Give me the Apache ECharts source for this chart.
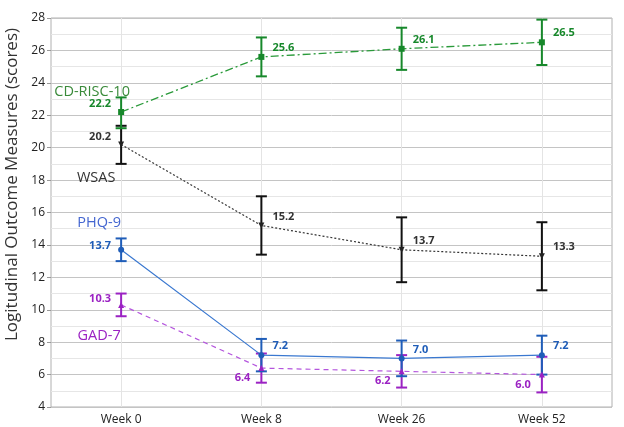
<!DOCTYPE html>
<html><head><meta charset="utf-8">
<script src="https://cdn.jsdelivr.net/npm/echarts@6/dist/echarts.min.js"></script>
<style>html,body{margin:0;padding:0;background:#fff}#c{width:624px;height:427px}</style>
</head><body><div id="c"></div>
<script>
const categories = ['Week 0', 'Week 8', 'Week 26', 'Week 52'];
const cdrisc = [22.2, 25.6, 26.1, 26.5];
const cdriscLow = [21.2, 24.4, 24.8, 25.1];
const cdriscHigh = [23.1, 26.8, 27.4, 27.9];
const wsas = [20.2, 15.2, 13.7, 13.3];
const wsasLow = [19.0, 13.4, 11.7, 11.2];
const wsasHigh = [21.35, 17.0, 15.7, 15.4];
const phq = [13.7, 7.2, 7.0, 7.2];
const phqLow = [13.0, 6.2, 5.9, 6.0];
const phqHigh = [14.4, 8.2, 8.1, 8.4];
const gad = [10.3, 6.4, 6.2, 6.0];
const gadLow = [9.6, 5.5, 5.2, 4.9];
const gadHigh = [11.0, 7.3, 7.2, 7.1];
const yTicks = [4, 6, 8, 10, 12, 14, 16, 18, 20, 22, 24, 26, 28];

const FONT = 'Open Sans';
const chart = echarts.init(document.getElementById('c'), null, {renderer: 'canvas'});

function labeled(vals, color, firstOff, restPos, restOff) {
  return vals.map((v, i) => ({
    value: v,
    label: {
      show: true,
      position: i === 0 ? 'left' : restPos,
      distance: i === 0 ? 7 : 8,
      offset: i === 0 ? firstOff : restOff,
      color: color,
      fontSize: 11,
      fontWeight: 'bold',
      fontFamily: FONT,
      formatter: p => p.value.toFixed(1)
    }
  }));
}

function errSeries(low, high, color, z) {
  return {
    type: 'custom',
    z: z,
    silent: true,
    data: low.map((l, i) => [i, l, high[i]]),
    renderItem: function (params, api) {
      const x = api.value(0);
      const lo = api.coord([x, api.value(1)]);
      const hi = api.coord([x, api.value(2)]);
      const w = 5.5;
      const style = {stroke: color, lineWidth: 2};
      return {
        type: 'group',
        children: [
          {type: 'line', shape: {x1: lo[0], y1: lo[1], x2: hi[0], y2: hi[1]}, style: style},
          {type: 'line', shape: {x1: lo[0] - w, y1: lo[1], x2: lo[0] + w, y2: lo[1]}, style: style},
          {type: 'line', shape: {x1: hi[0] - w, y1: hi[1], x2: hi[0] + w, y2: hi[1]}, style: style}
        ]
      };
    }
  };
}

function tag(name, yv, dx, color) {
  return {
    symbol: 'rect', symbolSize: 1,
    itemStyle: {color: 'rgba(0,0,0,0)'},
    label: {show: true, position: 'inside', offset: [dx, 0], formatter: name,
            color: color, fontSize: 14.5, fontFamily: FONT},
    data: [{coord: [categories[0], yv]}]
  };
}

const option = {
  animation: false,
  grid: {left: 51, right: 12, top: 18, bottom: 20, show: true, borderColor: '#b0b0b0', borderWidth: 1,
         containLabel: false, outerBoundsMode: 'none'},
  xAxis: {
    type: 'category', data: categories, boundaryGap: true,
    axisLine: {show: false}, axisTick: {show: false},
    axisLabel: {color: '#222', fontSize: 12, fontFamily: FONT, margin: 7},
    splitLine: {show: true, alignWithLabel: true, lineStyle: {color: '#e4e4e4', width: 1}}
  },
  yAxis: {
    type: 'value', min: yTicks[0], max: yTicks[yTicks.length - 1], interval: 2, splitNumber: 2,
    name: 'Logitudinal Outcome Measures (scores)', nameLocation: 'middle', nameGap: 28,
    nameTextStyle: {color: '#333', fontSize: 17, fontFamily: FONT, padding: [0, 0, 0, 56]},
    axisLine: {show: false},
    axisTick: {show: true, length: 4, lineStyle: {color: '#999'}},
    axisLabel: {color: '#222', fontSize: 12, fontFamily: FONT, margin: 6},
    splitLine: {show: true, lineStyle: {color: '#c4c4c4', width: 1}},
    minorTick: {show: false, splitNumber: 2},
    minorSplitLine: {show: true, lineStyle: {color: '#e6e6e6', width: 1}}
  },
  series: [
    errSeries(wsasLow, wsasHigh, '#111111', 3),
    errSeries(cdriscLow, cdriscHigh, '#17882b', 3),
    errSeries(gadLow, gadHigh, '#9b22c3', 3),
    errSeries(phqLow, phqHigh, '#1f5db8', 3),
    {
      type: 'line', name: 'CD-RISC-10', z: 4,
      data: labeled(cdrisc, '#17882b', [0, -8], 'right', [0, -9]),
      symbol: 'rect', symbolSize: 6,
      itemStyle: {color: '#17882b'},
      lineStyle: {color: '#2a9a3a', width: 1.3, type: [8, 3, 2, 3]},
      markPoint: tag('CD-RISC-10', 23.46, -29, '#3a8a3a')
    },
    {
      type: 'line', name: 'WSAS', z: 4,
      data: labeled(wsas, '#333333', [0, -8], 'right', [0, -9]),
      symbol: 'triangle', symbolRotate: 180, symbolSize: 6,
      itemStyle: {color: '#222'},
      lineStyle: {color: '#333', width: 1.2, type: [2, 2]},
      markPoint: tag('WSAS', 18.13, -25, '#333333')
    },
    {
      type: 'line', name: 'PHQ-9', z: 5,
      data: labeled(phq, '#1f5db8', [0, -4], 'right', [0, -9]),
      symbol: 'circle', symbolSize: 6,
      itemStyle: {color: '#1f5db8'},
      lineStyle: {color: '#3a78d0', width: 1.2, type: 'solid'},
      markPoint: tag('PHQ-9', 15.36, -22, '#4466d0')
    },
    {
      type: 'line', name: 'GAD-7', z: 4,
      data: labeled(gad, '#9b22c3', [0, -6], 'left', [0, 10]),
      symbol: 'triangle', symbolSize: 6,
      itemStyle: {color: '#9b22c3'},
      lineStyle: {color: '#b455dd', width: 1.2, type: [5, 4]},
      markPoint: tag('GAD-7', 8.37, -22, '#9b22c3')
    }
  ]
};
chart.setOption(option);
</script>
</body></html>
